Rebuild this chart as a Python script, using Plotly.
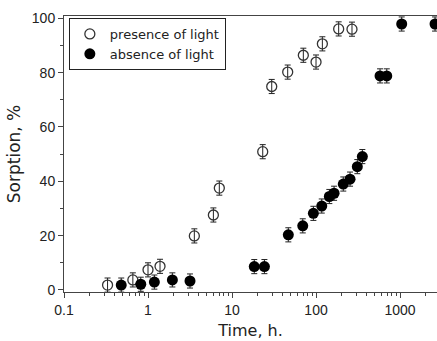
import plotly.graph_objects as go

# Presence of light (open circles)
t_light = [0.33, 0.66, 1.0, 1.39, 3.56, 6.0, 7.06, 23.2, 29.7, 46, 70.6, 100, 119, 186, 268]
s_light = [1.8, 3.7, 7.4, 8.7, 19.9, 27.6, 37.5, 50.9, 74.9, 80.2, 86.4, 83.9, 90.6, 96.1, 96.0]
e_light = [2.6] * len(t_light)

# Absence of light (filled circles)
t_dark = [0.48, 0.82, 1.19, 1.95, 3.16, 18.4, 24.3, 46.8, 69.5, 93, 117, 144, 164, 211, 254, 310, 356, 578, 695, 1047, 2610]
s_dark = [1.8, 2.1, 2.9, 3.7, 3.3, 8.6, 8.6, 20.3, 23.6, 28.2, 30.9, 34.4, 35.6, 39.0, 40.8, 45.4, 49.1, 78.8, 78.8, 97.9, 97.9]
e_dark = [2.6] * len(t_dark)

x_ticks = [0.1, 1, 10, 100, 1000]
x_ticktext = ["0.1", "1", "10", "100", "1000"]
y_ticks = [0, 20, 40, 60, 80, 100]

minor_x = [m * 10.0 ** d for d in range(-1, 4) for m in range(2, 10)]

fig = go.Figure()
fig.add_trace(go.Scatter(
    x=t_light, y=s_light, mode="markers", name="presence of light",
    marker=dict(symbol="circle-open", size=10, color="#333333", line=dict(width=1.3)),
    error_y=dict(type="data", array=e_light, visible=True, color="#222222", thickness=1, width=3),
    cliponaxis=True,
))
fig.add_trace(go.Scatter(
    x=t_dark, y=s_dark, mode="markers", name="absence of light",
    marker=dict(symbol="circle", size=11, color="black"),
    error_y=dict(type="data", array=e_dark, visible=True, color="#222222", thickness=1, width=3),
    cliponaxis=True,
))

tick_font = dict(family="Liberation Sans, Arial, sans-serif", size=14, color="#222222")
title_font = dict(family="DejaVu Sans, sans-serif", size=16, color="#222222")

fig.update_layout(
    width=437, height=341,
    margin=dict(l=64, r=0, t=16, b=49),
    paper_bgcolor="white", plot_bgcolor="white",
    showlegend=True,
    legend=dict(
        x=0.013, y=0.993, xanchor="left", yanchor="top",
        bordercolor="#222222", borderwidth=1, bgcolor="white",
        font=dict(family="DejaVu Sans, sans-serif", size=13, color="#222222"),
        tracegroupgap=0, itemwidth=30,
    ),
    xaxis=dict(
        type="log", range=[-1, 3.44],
        tickvals=x_ticks, ticktext=x_ticktext,
        ticks="outside", ticklen=5, tickwidth=1, tickcolor="#444444",
        minor=dict(tickvals=minor_x, ticks="outside", ticklen=3, tickcolor="#444444", showgrid=False),
        showline=True, linecolor="#444444", linewidth=1, mirror=True,
        showgrid=False, zeroline=False,
        tickfont=tick_font,
        title=dict(text="Time, h.", font=title_font, standoff=8),
    ),
    yaxis=dict(
        range=[-0.75, 100.85],
        tickvals=y_ticks,
        ticks="outside", ticklen=5, tickwidth=1, tickcolor="#444444",
        minor=dict(dtick=10, ticks="outside", ticklen=3, tickcolor="#444444", showgrid=False),
        showline=True, linecolor="#444444", linewidth=1, mirror=False,
        showgrid=False, zeroline=False,
        tickfont=tick_font,
        title=dict(text="Sorption, %", font=dict(family="DejaVu Sans, sans-serif", size=17, color="#222222"), standoff=6),
    ),
)

fig.write_html(
    "out.html",
    config={"displayModeBar": False},
    post_script="document.body.style.margin='0';document.body.style.overflow='hidden';",
)
